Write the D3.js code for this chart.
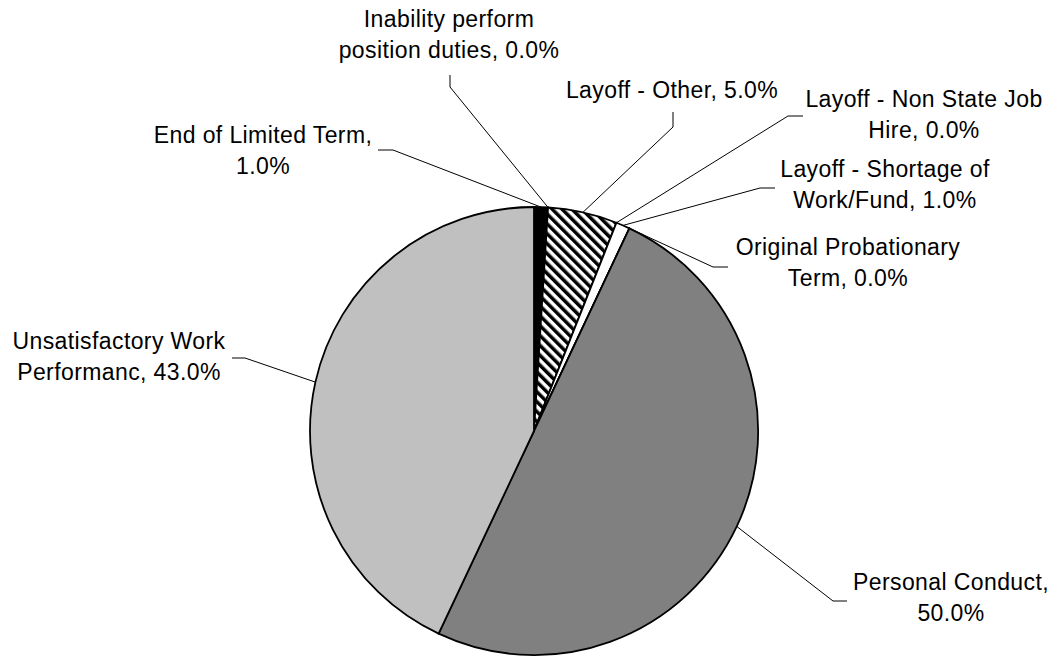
<!DOCTYPE html>
<html>
<head>
<meta charset="utf-8">
<script src="https://cdn.jsdelivr.net/npm/d3@7/dist/d3.min.js"></script>
<style>
  body { margin: 0; background: #fff; }
  text { font-family: Arial, "Liberation Sans", sans-serif; font-size: 23px; letter-spacing: 0.4px; fill: #000; }
</style>
</head>
<body>
<div id="chart"></div>
<script>
// data
var categories = [
  "End of Limited Term",
  "Inability perform position duties",
  "Layoff - Other",
  "Layoff - Non State Job Hire",
  "Layoff - Shortage of Work/Fund",
  "Original Probationary Term",
  "Personal Conduct",
  "Unsatisfactory Work Performanc"
];
var values = [1, 0, 5, 0, 1, 0, 50, 43];

var width = 1058;
var height = 659;
var cx = 534, cy = 431, radius = 224;

// fills per slice, "hatch" uses the pattern below
var fills = ["#000000", "#ffffff", "url(#hatch)", "#ffffff", "#ffffff", "#ffffff", "#808080", "#c0c0c0"];

// label placement (centre x, first baseline, words on first line, leader stub)
var labelLayout = [
  { x: 263, y: 143, brk: 4, stub: [[378, 150], [393, 150]] },
  { x: 449, y: 27, brk: 2, stub: [[450, 75], [450, 87]] },
  { x: 672, y: 98, brk: 4, stub: [[673, 112], [673, 127]] },
  { x: 924, y: 107, brk: 5, stub: [[803, 116], [788, 116]] },
  { x: 885, y: 177, brk: 4, stub: [[775, 188], [760, 188]] },
  { x: 848, y: 255, brk: 2, stub: [[728, 267], [713, 267]] },
  { x: 951, y: 590, brk: 2, stub: [[847, 601], [833, 601]] },
  { x: 119, y: 349, brk: 2, stub: [[232, 358], [245, 358]] }
];
var lineHeight = 30.5;

var svg = d3.select("#chart")
  .append("svg")
  .attr("width", width)
  .attr("height", height);

// diagonal stripes for Layoff - Other
var defs = svg.append("defs");
var pat = defs.append("pattern")
  .attr("id", "hatch")
  .attr("patternUnits", "userSpaceOnUse")
  .attr("width", 7)
  .attr("height", 7)
  .attr("patternTransform", "rotate(-45)");
pat.append("rect").attr("width", 7).attr("height", 7).attr("fill", "#fff");
pat.append("rect").attr("width", 3.5).attr("height", 7).attr("fill", "#000");

var pie = d3.pie().sort(null).value(function(d) { return d; });
var arcs = pie(values);

var arc = d3.arc().innerRadius(0).outerRadius(radius);
var edgeArc = d3.arc().innerRadius(radius).outerRadius(radius);

var chartGroup = svg.append("g")
  .attr("transform", "translate(" + cx + "," + cy + ")");

chartGroup.selectAll("path.slice")
  .data(arcs)
  .enter()
  .append("path")
  .attr("class", "slice")
  .attr("d", arc)
  .attr("fill", function(d, i) { return fills[i]; })
  .attr("stroke", "#000")
  .attr("stroke-width", 1.8)
  .attr("stroke-linejoin", "round");

var fmt = d3.format(".1%");

// leader lines: label stub then straight to the slice edge
var line = d3.line();
svg.append("g")
  .selectAll("path")
  .data(arcs)
  .enter()
  .append("path")
  .attr("d", function(d, i) {
    var c = edgeArc.centroid(d);
    var s = labelLayout[i].stub;
    return line([s[0], s[1], [c[0] + cx, c[1] + cy]]);
  })
  .attr("fill", "none")
  .attr("stroke", "#000")
  .attr("stroke-width", 1);

// labels
var labels = svg.append("g")
  .selectAll("text")
  .data(arcs)
  .enter()
  .append("text")
  .attr("text-anchor", "middle")
  .attr("x", function(d, i) { return labelLayout[i].x; })
  .attr("y", function(d, i) { return labelLayout[i].y; });

labels.each(function(d, i) {
  var words = (categories[i] + ", " + fmt(d.value / 100)).split(" ");
  var b = labelLayout[i].brk;
  var rows = [words.slice(0, b).join(" ")];
  if (b < words.length) rows.push(words.slice(b).join(" "));
  d3.select(this).selectAll("tspan")
    .data(rows)
    .enter()
    .append("tspan")
    .attr("x", labelLayout[i].x)
    .attr("dy", function(r, j) { return j === 0 ? 0 : lineHeight; })
    .text(function(r) { return r; });
});
</script>
</body>
</html>
